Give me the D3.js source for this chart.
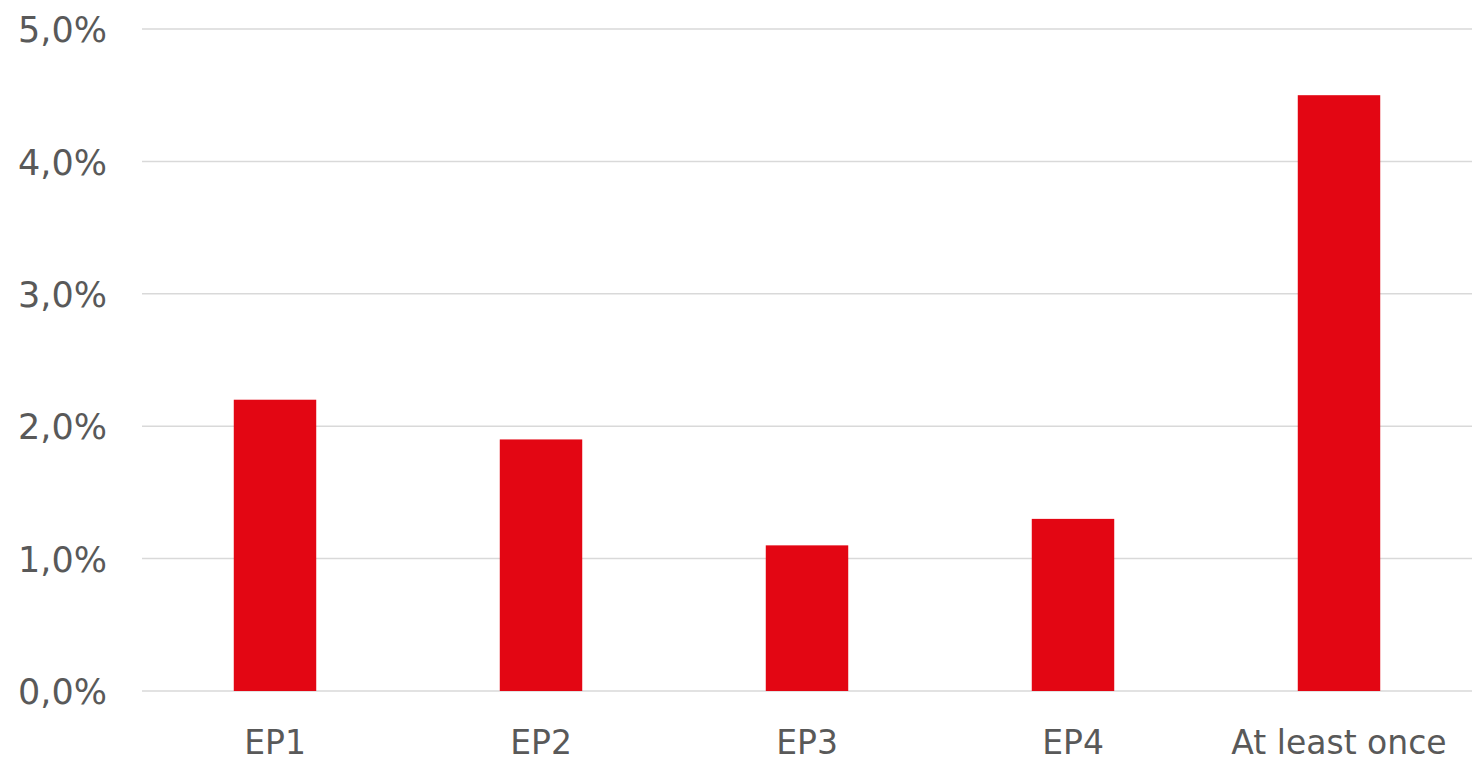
<!DOCTYPE html>
<html>
<head>
<meta charset="utf-8">
<script src="https://cdn.jsdelivr.net/npm/d3@7"></script>
<style>
  html, body { margin: 0; padding: 0; background: #fff; }
  svg { display: block; }
  .tick text { font-family: "DejaVu Sans", Verdana, sans-serif; fill: #595959; }
</style>
</head>
<body>
<svg id="chart" width="1472" height="764"></svg>
<script>
// chart data
const categories = ["EP1", "EP2", "EP3", "EP4", "At least once"];
const values = [2.2, 1.9, 1.1, 1.3, 4.5];
const yTicks = [0, 1, 2, 3, 4, 5];

const width = 1472, height = 764;
const margin = {top: 29, right: 0, bottom: 73, left: 142};

const svg = d3.select("#chart");

let x = d3.scaleBand()
    .domain(categories)
    .range([margin.left, width - margin.right])
    .paddingInner(0.69)
    .paddingOuter(0.345);

let y = d3.scaleLinear()
    .domain([0, 5])
    .range([height - margin.bottom, margin.top]);

// gridlines
svg.append("g")
    .selectAll("line")
    .data(yTicks)
    .enter()
    .append("line")
    .attr("x1", margin.left)
    .attr("x2", width - margin.right)
    .attr("y1", d => y(d))
    .attr("y2", d => y(d))
    .attr("stroke", "#d9d9d9")
    .attr("stroke-width", 1.5);

// y axis labels
let yAxis = d3.axisLeft(y)
    .tickValues(yTicks)
    .tickSize(0)
    .tickPadding(35)
    .tickFormat(d => d.toFixed(1).replace(".", ",") + "%");

svg.append("g")
    .attr("transform", `translate(${margin.left},0)`)
    .call(yAxis)
    .call(g => g.select(".domain").remove())
    .selectAll("text")
    .attr("font-size", 35)
    .attr("dy", "0.36em");

// bars
svg.append("g")
    .selectAll("rect")
    .data(values)
    .enter()
    .append("rect")
    .attr("x", (d, i) => x(categories[i]))
    .attr("width", x.bandwidth())
    .attr("y", d => y(d))
    .attr("height", d => y(0) - y(d))
    .attr("fill", "#e30613");

// x axis labels
let xAxis = d3.axisBottom(x)
    .tickSize(0)
    .tickPadding(51);

svg.append("g")
    .attr("transform", `translate(0,${height - margin.bottom})`)
    .call(xAxis)
    .call(g => g.select(".domain").remove())
    .selectAll("text")
    .attr("font-size", 33)
    .attr("dy", "0.35em");
</script>
</body>
</html>
